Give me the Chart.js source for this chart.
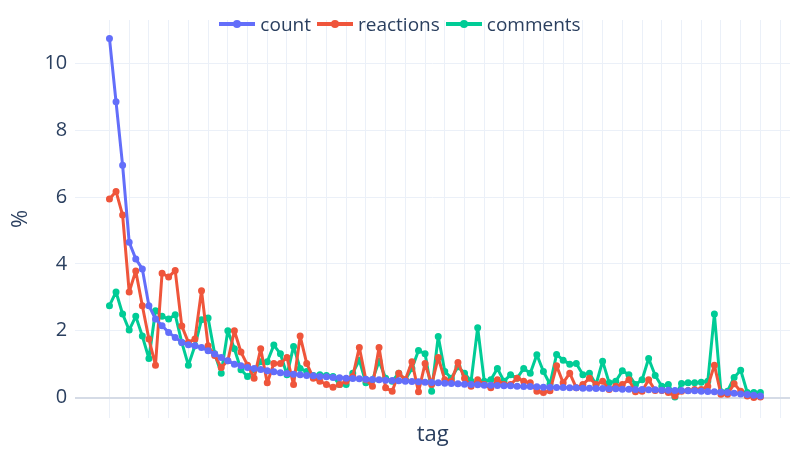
<!DOCTYPE html>
<html><head><meta charset="utf-8">
<script src="https://cdn.jsdelivr.net/npm/chart.js@4"></script>
<style>
body{margin:0;background:#fff;font-family:"Open Sans",sans-serif;}
#wrap{position:relative;width:800px;height:450px;}
#leg{position:absolute;top:6px;left:0;width:860px;text-align:center;font-size:19px;color:#2a3f5f;}
#leg span{display:inline-flex;align-items:center;margin:0 3px;}
#leg i{display:inline-block;width:36px;height:4px;margin-right:5px;position:relative;}
#leg i b{position:absolute;left:14px;top:-2px;width:8px;height:8px;border-radius:50%;}
</style></head><body>
<div id="wrap"><canvas id="c" width="800" height="450"></canvas>
<div id="leg"></div></div>
<script>
const seriesNames=["count","reactions","comments"];
const colors=["#636efa","#EF553B","#00cc96"];
const count=[10.75,8.85,6.95,4.65,4.15,3.85,2.75,2.35,2.15,1.95,1.8,1.65,1.58,1.55,1.5,1.4,1.3,1.2,1.1,1.0,0.95,0.9,0.87,0.84,0.8,0.77,0.74,0.72,0.7,0.68,0.66,0.65,0.63,0.62,0.6,0.59,0.58,0.57,0.56,0.55,0.54,0.53,0.52,0.51,0.5,0.49,0.48,0.47,0.46,0.45,0.44,0.43,0.42,0.41,0.4,0.39,0.38,0.37,0.37,0.36,0.35,0.35,0.34,0.33,0.33,0.32,0.31,0.31,0.3,0.3,0.29,0.29,0.28,0.28,0.27,0.27,0.26,0.26,0.25,0.25,0.24,0.24,0.23,0.23,0.22,0.22,0.21,0.21,0.2,0.2,0.19,0.18,0.17,0.16,0.15,0.13,0.11,0.09,0.07,0.05];
const reactions=[5.94,6.17,5.46,3.16,3.79,2.75,1.75,0.97,3.72,3.61,3.8,2.14,1.65,1.75,3.2,1.55,1.26,0.9,1.1,2.0,1.36,0.97,0.58,1.46,0.44,1.02,1.02,1.2,0.39,1.84,1.02,0.58,0.49,0.39,0.31,0.39,0.49,0.63,1.5,0.53,0.34,1.5,0.29,0.19,0.73,0.53,1.07,0.17,1.02,0.39,1.2,0.53,0.49,1.05,0.58,0.34,0.53,0.39,0.29,0.53,0.39,0.39,0.58,0.49,0.44,0.19,0.15,0.2,0.95,0.44,0.73,0.29,0.39,0.58,0.39,0.49,0.24,0.34,0.39,0.53,0.17,0.19,0.53,0.21,0.21,0.15,0.05,0.19,0.21,0.24,0.24,0.34,0.97,0.1,0.1,0.41,0.19,0.05,0.0,0.02];
const comments=[2.75,3.16,2.5,2.02,2.43,1.84,1.17,2.6,2.43,2.35,2.48,1.65,0.97,1.55,2.33,2.38,1.31,0.73,2.0,1.46,0.83,0.63,0.83,1.07,1.07,1.57,1.31,0.68,1.53,0.87,0.78,0.66,0.68,0.66,0.63,0.39,0.39,0.73,1.12,0.44,0.53,1.09,0.58,0.49,0.73,0.53,0.87,1.41,1.31,0.19,1.83,0.78,0.58,0.92,0.73,0.49,2.09,0.49,0.53,0.87,0.49,0.68,0.58,0.87,0.73,1.28,0.78,0.4,1.29,1.12,1.0,1.02,0.68,0.73,0.39,1.09,0.44,0.49,0.8,0.68,0.39,0.53,1.17,0.66,0.34,0.39,0.02,0.42,0.44,0.44,0.46,0.49,2.5,0.17,0.19,0.6,0.82,0.15,0.15,0.15];
const yTicks=[0,2,4,6,8,10];
const all=[count,reactions,comments];
const leg=document.getElementById('leg');
seriesNames.forEach((n,k)=>{leg.innerHTML+=`<span><i style="background:${colors[k]}"><b style="background:${colors[k]}"></b></i>${n}</span>`;});
leg.style.left='-30px';
const gridC='#ebf0f8';
new Chart(document.getElementById('c'),{
 type:'line',
 data:{datasets:all.map((arr,k)=>({label:seriesNames[k],data:arr.map((v,i)=>({x:i,y:v})),borderColor:colors[k],backgroundColor:colors[k],borderWidth:3,borderJoinStyle:'round',pointRadius:2,pointHoverRadius:2,tension:0}))},
 options:{responsive:false,animation:false,
  layout:{padding:{left:4,right:10,top:5,bottom:2}},
  plugins:{legend:{display:false},tooltip:{enabled:false}},
  scales:{
   x:{type:'linear',min:-5.2,max:103.5,
     afterBuildTicks:s=>{s.ticks=[];for(let v=0;v<=102;v+=3)s.ticks.push({value:v});},
     grid:{color:gridC,drawTicks:false},border:{display:false},
     ticks:{display:false},
     title:{display:true,text:'tag',color:'#2a3f5f',font:{size:22,family:'Open Sans'},padding:{top:4,bottom:0}}},
   y:{min:-0.6,max:11.3,
     afterBuildTicks:s=>{s.ticks=yTicks.map(v=>({value:v}));},
     grid:{color:c=>c.tick&&c.tick.value===0?'#d5dbe6':gridC,lineWidth:c=>c.tick&&c.tick.value===0?2:1,drawTicks:false},border:{display:false},
     ticks:{color:'#2a3f5f',font:{size:20,family:'Open Sans'},padding:8},
     title:{display:true,text:'%',color:'#2a3f5f',font:{size:22,family:'Open Sans'},padding:{bottom:2}}}
  }}
});
</script></body></html>
